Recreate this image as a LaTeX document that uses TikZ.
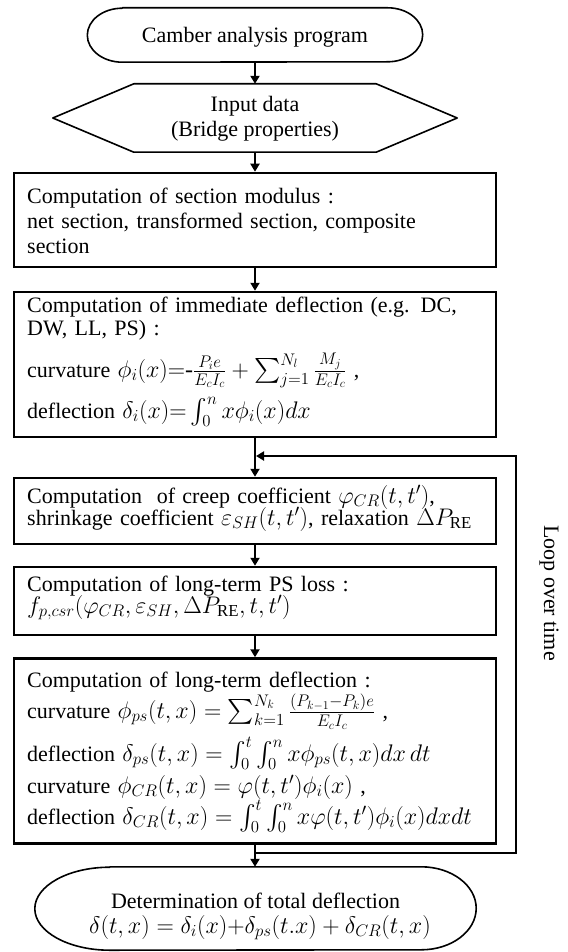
\RequirePackage{fix-cm}
\documentclass[tikz,border=0pt]{standalone}
\usepackage{amsmath}
\usepackage{fontspec}
\setmainfont{Liberation Serif}
\usetikzlibrary{arrows.meta}
\newcommand\mystrut{\rule{0pt}{17pt}}
\newcommand\tightlines{\lineskiplimit=-100pt\relax\lineskip=0pt\relax}
\newcommand\mth[1]{{\fontsize{24}{25}\selectfont$#1$}}
\tikzset{
  boxsty/.style={draw, line width=2.5pt, minimum width=482pt, inner sep=0pt},
  shapeline/.style={line width=1.6pt, line join=round},
  txt/.style={anchor=north west, inner sep=0pt, text width=458pt, align=left,
    font=\fontsize{22}{#1}\selectfont, execute at begin node=\tightlines},
  one/.style={anchor=base, inner sep=0pt, font=\fontsize{22}{25}\selectfont},
  flow/.style={line width=2.4pt, -{Triangle[length=8pt,width=9pt]}},
  loopline/.style={line width=2.8pt, line join=miter, -{Triangle[length=8pt,width=9pt]}},
}
\begin{document}
\begin{tikzpicture}[x=1pt,y=-1pt]
\useasboundingbox (0,0) rectangle (567,952);

% start terminal
\node[minimum width=335pt, minimum height=54pt, inner sep=0pt] (start) at (255,35) {};
\draw[shapeline] ([xshift=35pt]start.north west) -- ([xshift=-35pt]start.north east)
  arc[start angle=90, end angle=-90, x radius=35pt, y radius=27pt]
  -- ([xshift=35pt]start.south west)
  arc[start angle=270, end angle=90, x radius=35pt, y radius=27pt] -- cycle;
\node[one] (starttxt) at (255,43) {Camber analysis program};

% input hexagon
\node[minimum width=404pt, minimum height=68pt, inner sep=0pt] (input) at (255,118) {};
\draw[shapeline] (input.west) -- ([xshift=81pt]input.north west) -- ([xshift=-81pt]input.north east)
  -- (input.east) -- ([xshift=-81pt]input.south east) -- ([xshift=81pt]input.south west) -- cycle;
\node[one] (inputtxt1) at (255,112) {Input data};
\node[one] (inputtxt2) at (255,137) {(Bridge properties)};

% boxes
\node[boxsty, minimum height=94pt] (b1) at (255,220) {};
\node[txt=25] (t1) at (27,186) {\mystrut Computation of section modulus :\\
\makebox[458pt][s]{net section, transformed section, composite}\\
section};

\node[boxsty, minimum height=145pt] (b2) at (255,364.5) {};
\node[txt=23] (t2) at (27,295) {\mystrut\makebox[458pt][s]{Computation of immediate deflection (e.g. DC,}\\
DW, LL, PS) :\\[19pt]
curvature \mth{\phi_i(x){=}\mbox{-}\frac{P_ie}{E_cI_c}+\sum_{j=1}^{N_l}\frac{M_j}{E_cI_c}} ,\\[18pt]
deflection \mth{\delta_i(x){=}\int_0^n x\phi_i(x)dx}};

\node[boxsty, minimum height=66pt] (b3) at (255,511) {};
\node[txt=22] (t3) at (27,485) {\mystrut\makebox[458pt][s]{Computation \ of creep coefficient \mth{\varphi_{CR}(t,t')},}\\
\makebox[445pt][s]{shrinkage coefficient \mth{\varepsilon_{SH}(t,t')}, relaxation \mth{\Delta P_{\mathrm{RE}}}}};

\node[boxsty, minimum height=68pt] (b4) at (255,601) {};
\node[txt=22] (t4) at (27,574) {\mystrut Computation of long-term PS loss :\\
\mth{f_{p,csr}(\varphi_{CR},\varepsilon_{SH},\Delta P_{\mathrm{RE}},t,t')}};

\node[boxsty, minimum height=185pt] (b5) at (255,751) {};
\node[txt=31] (t5) at (27,670) {\mystrut Computation of long-term deflection :\\
curvature \mth{\phi_{ps}(t,x)=\sum_{k=1}^{N_k}\frac{(P_{k-1}-P_k)e}{E_cI_c}} ,\\[12pt]
deflection \mth{\delta_{ps}(t,x)=\int_0^t\int_0^n x\phi_{ps}(t,x)dx\,dt}\\[1pt]
curvature \mth{\phi_{CR}(t,x)=\varphi(t,t')\phi_i(x)} ,\\
deflection \mth{\delta_{CR}(t,x)=\int_0^t\int_0^n x\varphi(t,t')\phi_i(x)dxdt}};

% end terminal
\node[minimum width=441pt, minimum height=83pt, inner sep=0pt] (end) at (255.5,908.5) {};
\draw[shapeline] ([xshift=75pt]end.north west) -- ([xshift=-55pt]end.north east)
  arc[start angle=90, end angle=-90, x radius=55pt, y radius=41.5pt]
  -- ([xshift=75pt]end.south west)
  arc[start angle=270, end angle=90, x radius=75pt, y radius=41.5pt] -- cycle;
\node[one] (endtxt1) at (255.5,908) {Determination of total deflection};
\node[one] (endtxt2) at (260,933) {\mth{\delta(t,x) = \delta_i(x){+}\delta_{ps}(t.x) + \delta_{CR}(t,x)}};

% connectors
\draw[flow] (start.south) -- (input.north);
\draw[flow] (input.south) -- (b1.north);
\draw[flow] (b1.south) -- (b2.north);
\draw[flow] (b2.south) -- (b3.north);
\draw[flow] (b3.south) -- (b4.north);
\draw[flow] (b4.south) -- (b5.north);
\draw[flow] (b5.south) -- (b5.south |- end.north);

% loop
\coordinate (jb) at (255,853);
\coordinate (jt) at (256,456);
\coordinate (rb) at (516,853);
\coordinate (rt) at (516,456);
\draw[loopline] (jb) -- (rb) -- (rt) -- (jt);
\node[rotate=-90, inner sep=0pt, font=\fontsize{22}{25}\selectfont] (looptxt) at (549,593) {Loop over time};
\end{tikzpicture}
\end{document}
